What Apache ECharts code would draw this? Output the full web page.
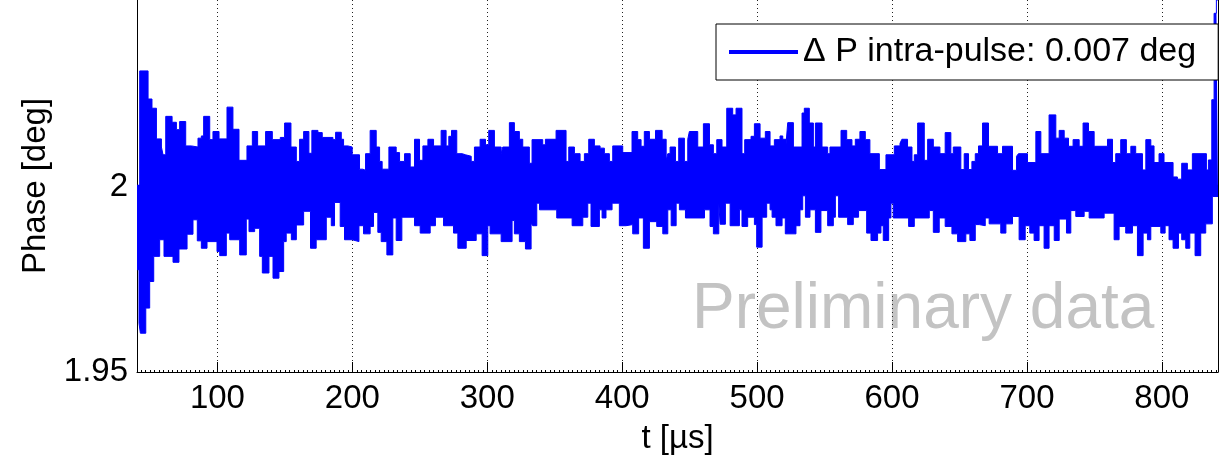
<!DOCTYPE html>
<html>
<head>
<meta charset="utf-8">
<script src="https://cdn.jsdelivr.net/npm/echarts@6/dist/echarts.min.js"></script>
<style>
html,body{margin:0;padding:0;background:#fff;}
#chart{width:1219px;height:461px;}
</style>
</head>
<body>
<div id="chart"></div>
<script>
// Upper envelope of the phase trace (step breakpoints: time in µs, phase in deg)
const upperT = [40.4,42.4,48.6,51.5,54.8,58.5,59.7,61.7,66.4,69.6,72.0,76.5,80.7,85.6,88.1,89.8,94.3,96.7,101.2,107.1,111.5,116.0,121.9,125.9,129.8,135.7,140.7,146.6,149.8,154.5,158.5,160.9,163.9,167.8,170.0,174.5,177.7,185.6,187.6,191.8,193.5,196.7,199.9,205.3,207.8,209.8,213.2,217.7,220.2,222.1,227.1,232.5,235.0,238.7,242.9,246.1,249.8,252.3,256.0,260.2,265.8,269.5,271.5,273.5,277.4,281.4,283.9,288.1,290.5,294.7,298.7,301.1,305.3,310.3,311.5,316.4,320.1,323.8,326.3,331.2,333.2,341.1,343.1,351.0,358.4,360.4,364.6,368.8,372.0,375.2,379.4,383.6,386.8,390.5,393.0,400.4,407.3,411.5,414.0,416.4,420.2,424.7,429.6,432.6,433.8,435.5,439.5,441.9,446.1,448.6,449.8,456.0,460.2,464.7,467.6,470.1,474.0,477.5,481.9,484.4,488.8,490.8,495.5,498.0,502.2,506.1,509.6,512.8,517.0,519.0,521.4,522.7,526.9,533.3,535.0,538.7,541.7,543.2,548.1,552.3,554.0,562.2,566.4,570.3,572.8,576.2,580.2,583.6,590.6,595.5,601.7,605.9,607.3,611.5,614.8,616.5,619.0,623.9,626.4,630.6,635.5,639.4,643.6,645.4,651.0,653.5,656.7,659.2,661.7,664.1,667.1,671.5,678.2,681.9,689.3,692.3,693.7,700.4,706.6,710.3,716.4,721.4,723.9,727.6,730.8,734.2,738.7,741.6,745.6,749.8,759.7,763.4,765.8,769.5,773.7,777.0,780.6,785.6,788.1,791.8,794.2,797.9,801.6,808.3,811.5,814.7,818.9,822.6,833.0,834.5,837.0,838.7,840.4];
const upperV = [2.0000,2.0315,2.0239,2.0214,2.0131,2.0109,2.0088,2.0192,2.0176,2.0156,2.0178,2.0112,2.0109,2.0133,2.0139,2.0192,2.0129,2.0151,2.0131,2.0217,2.0157,2.0073,2.0112,2.0151,2.0112,2.0151,2.0129,2.0135,2.0174,2.0109,2.0070,2.0130,2.0151,2.0092,2.0154,2.0148,2.0135,2.0129,2.0149,2.0130,2.0112,2.0109,2.0088,2.0049,2.0046,2.0091,2.0154,2.0109,2.0070,2.0049,2.0109,2.0094,2.0070,2.0091,2.0055,2.0130,2.0073,2.0112,2.0130,2.0112,2.0154,2.0112,2.0138,2.0154,2.0091,2.0088,2.0084,2.0070,2.0109,2.0130,2.0115,2.0154,2.0109,2.0091,2.0109,2.0175,2.0151,2.0130,2.0109,2.0065,2.0129,2.0115,2.0130,2.0154,2.0070,2.0109,2.0091,2.0070,2.0091,2.0130,2.0112,2.0106,2.0091,2.0070,2.0112,2.0094,2.0151,2.0129,2.0111,2.0151,2.0130,2.0154,2.0130,2.0073,2.0091,2.0109,2.0070,2.0133,2.0070,2.0130,2.0151,2.0109,2.0172,2.0115,2.0091,2.0129,2.0109,2.0214,2.0196,2.0214,2.0091,2.0129,2.0138,2.0172,2.0133,2.0151,2.0112,2.0129,2.0139,2.0130,2.0115,2.0175,2.0109,2.0201,2.0214,2.0174,2.0109,2.0174,2.0109,2.0091,2.0109,2.0154,2.0129,2.0112,2.0130,2.0151,2.0129,2.0091,2.0048,2.0088,2.0112,2.0119,2.0130,2.0109,2.0070,2.0088,2.0174,2.0073,2.0130,2.0109,2.0091,2.0148,2.0091,2.0109,2.0048,2.0091,2.0048,2.0070,2.0091,2.0112,2.0174,2.0111,2.0091,2.0111,2.0046,2.0084,2.0091,2.0067,2.0151,2.0091,2.0196,2.0133,2.0154,2.0133,2.0111,2.0129,2.0111,2.0174,2.0151,2.0111,2.0130,2.0067,2.0091,2.0129,2.0091,2.0111,2.0091,2.0047,2.0129,2.0112,2.0067,2.0091,2.0067,2.0028,2.0022,2.0065,2.0047,2.0091,2.0047,2.0074,2.0237,2.0471,2.0507];
// Lower envelope of the phase trace
const lowerT = [40.4,41.9,42.9,46.9,49.8,52.8,57.2,60.4,67.1,71.5,77.5,81.9,85.1,88.1,92.3,99.7,101.7,106.6,109.1,116.5,121.4,123.4,127.6,131.3,133.3,138.2,141.2,145.6,149.1,151.0,154.8,158.5,163.9,169.0,173.2,180.7,184.4,186.8,191.0,194.2,199.9,204.9,208.3,213.2,215.7,218.9,221.4,225.6,230.0,232.5,236.7,246.1,250.3,257.7,261.6,267.6,275.0,278.2,284.4,291.8,296.2,300.4,302.1,310.3,318.4,320.1,323.8,328.3,332.5,333.7,336.7,338.7,351.5,362.9,370.8,374.5,376.9,383.1,385.1,388.0,392.5,397.9,402.8,407.8,412.2,415.7,420.2,425.6,430.1,433.8,436.3,440.0,442.4,446.9,461.0,465.1,467.6,471.6,472.6,476.5,480.0,486.9,488.8,493.0,498.0,499.7,503.7,507.1,509.6,511.1,514.0,518.5,520.9,528.8,531.8,533.8,535.8,539.2,543.2,547.3,552.3,556.5,558.0,560.4,567.1,571.3,575.2,581.2,584.4,589.3,591.8,593.5,597.5,599.2,600.9,612.3,616.5,627.6,630.6,635.0,639.4,644.4,648.6,654.7,657.7,661.7,664.6,669.1,672.0,680.6,684.4,689.3,694.2,698.7,702.1,705.3,709.0,712.7,716.4,720.2,723.9,729.3,732.5,736.2,742.4,746.1,757.2,764.6,768.3,773.2,778.2,781.9,786.1,789.3,791.8,799.2,802.4,805.3,808.3,812.3,814.7,817.7,820.7,824.6,828.8,832.5,837.4];
const lowerV = [1.9777,1.9632,1.9605,1.9673,1.9745,1.9813,1.9858,1.9813,1.9797,1.9833,1.9873,1.9912,1.9855,1.9835,1.9853,1.9826,1.9815,1.9876,1.9858,1.9817,1.9914,1.9880,1.9889,1.9813,1.9768,1.9813,1.9754,1.9772,1.9853,1.9876,1.9858,1.9898,1.9935,1.9835,1.9858,1.9919,1.9896,1.9959,1.9894,1.9858,1.9853,1.9896,1.9874,1.9894,1.9932,1.9878,1.9853,1.9817,1.9917,1.9856,1.9919,1.9896,1.9876,1.9896,1.9919,1.9896,1.9876,1.9835,1.9856,1.9874,1.9815,1.9896,1.9874,1.9853,1.9910,1.9874,1.9853,1.9833,1.9903,1.9896,1.9957,1.9939,1.9917,1.9896,1.9919,1.9957,1.9894,1.9939,1.9917,1.9939,1.9957,1.9896,1.9899,1.9874,1.9917,1.9835,1.9907,1.9894,1.9874,1.9939,1.9896,1.9957,1.9939,1.9917,1.9939,1.9894,1.9874,1.9957,1.9900,1.9957,1.9896,1.9939,1.9894,1.9919,1.9899,1.9838,1.9919,1.9957,1.9939,1.9919,1.9896,1.9917,1.9874,1.9896,1.9939,1.9977,1.9919,1.9939,1.9878,1.9937,1.9896,1.9919,1.9977,1.9919,1.9899,1.9919,1.9937,1.9876,1.9856,1.9876,1.9896,1.9856,1.9917,1.9957,1.9917,1.9894,1.9917,1.9937,1.9878,1.9917,1.9894,1.9874,1.9853,1.9874,1.9856,1.9899,1.9896,1.9917,1.9901,1.9876,1.9901,1.9921,1.9858,1.9896,1.9876,1.9856,1.9896,1.9835,1.9896,1.9856,1.9914,1.9876,1.9937,1.9921,1.9935,1.9917,1.9930,1.9858,1.9894,1.9876,1.9896,1.9815,1.9876,1.9858,1.9894,1.9876,1.9896,1.9858,1.9835,1.9876,1.9858,1.9835,1.9876,1.9815,1.9876,1.9901,1.9975];

const xMin = 40.4, xMax = 841.6;
const yMin = 1.95, yMax = 2.0507;
const yTicks = [1.95, 2];
const legendLabel = 'Δ P intra-pulse: 0.007 deg';
const watermark = 'Preliminary data';

function toSteps(T, V) {
  const d = T.map((t, i) => [t, V[i]]);
  d.push([xMax, V[V.length - 1]]);
  return d;
}

const FONT = "'Liberation Sans', Arial, Helvetica, sans-serif";
const BLUE = '#0000ff';
const chart = echarts.init(document.getElementById('chart'), null, {renderer: 'canvas'});
chart.setOption({
  animation: false,
  backgroundColor: '#fff',
  textStyle: {fontFamily: FONT},
  grid: {left: 137, right: 1, top: 0, bottom: 89},
  legend: {
    data: [{name: legendLabel, icon: 'rect'}],
    left: 716, top: 24,
    orient: 'horizontal',
    itemWidth: 69, itemHeight: 4,
    padding: [10, 22, 10, 13],
    borderColor: '#000', borderWidth: 1,
    backgroundColor: '#fff',
    selectedMode: false,
    textStyle: {fontFamily: FONT, fontSize: 34, color: '#000', lineHeight: 36}
  },
  xAxis: [{
    type: 'value', min: xMin, max: xMax, splitNumber: 8,
    name: 't [µs]', nameLocation: 'middle', nameGap: 50,
    nameTextStyle: {fontSize: 33, color: '#000', fontFamily: FONT},
    axisLine: {show: true, onZero: false, lineStyle: {color: '#000', width: 1}},
    axisTick: {show: true, inside: true, length: 10, lineStyle: {color: '#000'}},
    minorTick: {show: true, splitNumber: 30, length: 2, lineStyle: {color: '#000'}},
    axisLabel: {fontSize: 33, color: '#000', margin: 10, showMinLabel: false, showMaxLabel: false, fontFamily: FONT},
    splitLine: {show: true, lineStyle: {color: '#222', type: [1, 3], width: 1}}
  }],
  yAxis: [{
    type: 'value', min: yMin, max: yMax,
    name: 'Phase [deg]', nameLocation: 'middle', nameGap: 84, nameRotate: 90,
    nameTextStyle: {fontSize: 33, color: '#000', fontFamily: FONT},
    axisLine: {show: true, lineStyle: {color: '#000', width: 1}},
    axisTick: {show: true, inside: true, length: 10, customValues: yTicks, lineStyle: {color: '#000'}},
    axisLabel: {fontSize: 33, color: '#000', margin: 9, customValues: yTicks, fontFamily: FONT,
      formatter: v => String(+v.toFixed(2))},
    splitLine: {show: false}
  }, {
    type: 'value', min: yMin, max: yMax, position: 'right',
    axisLine: {show: true, lineStyle: {color: '#000', width: 1}},
    axisTick: {show: true, inside: true, length: 10, customValues: yTicks, lineStyle: {color: '#000'}},
    axisLabel: {show: false},
    splitLine: {show: false}
  }],
  graphic: [{
    type: 'text', left: 692, top: 278, z: 0,
    style: {text: watermark, fill: '#c3c3c3', font: '64px ' + FONT}
  }],
  series: [{
    name: legendLabel, type: 'line', step: 'end',
    data: toSteps(upperT, upperV),
    showSymbol: false, symbol: 'none',
    lineStyle: {color: BLUE, width: 1},
    itemStyle: {color: BLUE},
    areaStyle: {color: BLUE, opacity: 1, origin: 1.9993},
    z: 3
  }, {
    name: 'lower', type: 'line', step: 'end',
    data: toSteps(lowerT, lowerV),
    showSymbol: false, symbol: 'none',
    lineStyle: {color: BLUE, width: 1},
    itemStyle: {color: BLUE},
    areaStyle: {color: BLUE, opacity: 1, origin: 2.0007},
    z: 3
  }]
});
</script>
</body>
</html>
